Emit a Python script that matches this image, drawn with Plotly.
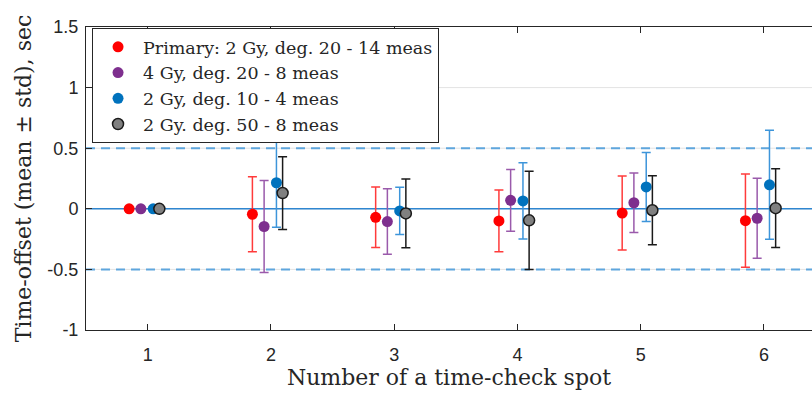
import plotly.graph_objects as go

spots = [1, 2, 3, 4, 5, 6]
tick_labels_y = ["-1", "-0.5", "0", "0.5", "1", "1.5"]
tick_vals_y = [-1, -0.5, 0, 0.5, 1, 1.5]

names = [
    "Primary: 2 Gy, deg. 20 - 14 meas",
    "4 Gy, deg. 20 - 8 meas",
    "2 Gy, deg. 10 - 4 meas",
    "2 Gy. deg. 50 - 8 meas",
]
red_mean = [0, -0.045, -0.07, -0.10, -0.035, -0.098]
red_std = [0, 0.31, 0.25, 0.255, 0.305, 0.385]
purple_mean = [0, -0.146, -0.105, 0.07, 0.05, -0.078]
purple_std = [0, 0.38, 0.27, 0.255, 0.245, 0.33]
blue_mean = [0, 0.215, -0.018, 0.065, 0.18, 0.198]
blue_std = [0, 0.367, 0.195, 0.314, 0.284, 0.45]
gray_mean = [0, 0.13, -0.038, -0.095, -0.012, 0.005]
gray_std = [0, 0.30, 0.283, 0.405, 0.285, 0.325]

series = [
    (names[0], red_mean, red_std, -0.15, "#ff0000", "#ff0000", "#ff3b3b"),
    (names[1], purple_mean, purple_std, -0.055, "#7e2f8e", "#7e2f8e", "#9a5aab"),
    (names[2], blue_mean, blue_std, 0.045, "#0072bd", "#0072bd", "#3d95da"),
    (names[3], gray_mean, gray_std, 0.095, "#808080", "#1a1a1a", "#1a1a1a"),
]

AX = "#262626"
SERIF = "DejaVu Serif"
SANS = "Liberation Sans"

fig = go.Figure()
for name, m, s, off, fill, edge, ecol in series:
    fig.add_trace(go.Scatter(
        x=[p + off for p in spots], y=m, mode="markers", name=name,
        marker=dict(size=11, color=fill, line=dict(color=edge, width=1.5 if fill == "#808080" else 0)),
        error_y=dict(type="data", array=s, visible=True, color=ecol, thickness=1.5, width=4.5),
    ))

# invisible trace for top axis
fig.add_trace(go.Scatter(x=[1], y=[0], xaxis="x2", mode="markers",
                         marker=dict(opacity=0), showlegend=False, hoverinfo="skip"))

# grid lines (light gray) then reference lines
for gv in tick_vals_y[1:-1]:
    fig.add_hline(y=gv, line=dict(color="#e3e3e3", width=1), layer="below")
fig.add_hline(y=0, line=dict(color="#2f86d0", width=1.5), layer="below")
fig.add_hline(y=0.5, line=dict(color="#5fa6dd", width=2, dash="9px,6px"), layer="below")
fig.add_hline(y=-0.5, line=dict(color="#5fa6dd", width=2, dash="9px,6px"), layer="below")

fig.update_layout(
    width=812, height=394,
    margin=dict(l=86, r=0, t=27, b=64),
    plot_bgcolor="white", paper_bgcolor="white",
    showlegend=True,
    legend=dict(x=0.0083, y=0.997, xanchor="left", yanchor="top",
                bordercolor=AX, borderwidth=1, bgcolor="white", itemwidth=40,
                font=dict(family=SERIF, size=17.5, color=AX)),
    xaxis=dict(range=[0.5, 6.39], tickvals=spots, ticktext=[str(v) for v in spots],
               ticks="inside", ticklen=6, tickcolor=AX, showline=True, linecolor=AX,
               linewidth=1, showgrid=False, zeroline=False,
               tickfont=dict(family=SANS, size=18, color=AX), ticklabelstandoff=8,
               title=dict(text="Number of a time-check spot",
                          font=dict(family=SERIF, size=22, color=AX), standoff=1)),
    xaxis2=dict(overlaying="x", side="top", anchor="y", matches="x",
                tickvals=spots, ticks="inside", ticklen=6, tickcolor=AX,
                showline=True, linecolor=AX, linewidth=1, showticklabels=False,
                showgrid=False, zeroline=False),
    yaxis=dict(range=[-1, 1.5], tickvals=tick_vals_y, ticktext=tick_labels_y,
               ticks="inside", ticklen=6, tickcolor=AX, showline=True, linecolor=AX,
               linewidth=1, showgrid=False, zeroline=False,
               tickfont=dict(family=SANS, size=18, color=AX), ticklabelstandoff=3,
               title=dict(text="Time-offset (mean \u00b1 std), sec",
                          font=dict(family=SERIF, size=22, color=AX), standoff=9)),
)

fig.write_html("out.html")
